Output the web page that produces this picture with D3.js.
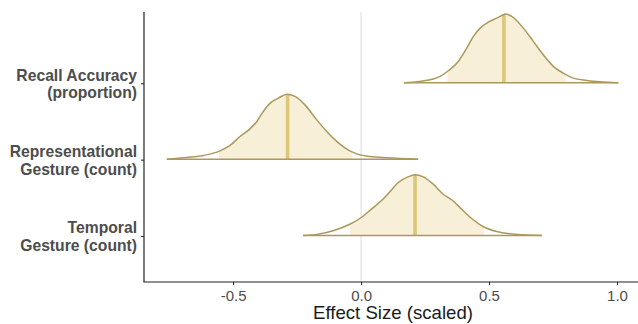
<!DOCTYPE html>
<html>
<head>
<meta charset="utf-8">
<script src="https://cdn.jsdelivr.net/npm/d3@7"></script>
<style>
  body { margin: 0; background: #fff; }
  svg { display: block; font-family: "Liberation Sans", Arial, sans-serif; }
</style>
</head>
<body>
<svg id="chart" width="638" height="324"></svg>
<script>
// parameters, top to bottom
const params = ["Recall Accuracy\n(proportion)", "Representational\nGesture (count)", "Temporal\nGesture (count)"];

// density outlines (x = effect size, d = relative density)
const recallX = [0.168, 0.230, 0.282, 0.309, 0.341, 0.380, 0.413, 0.439, 0.465, 0.497, 0.530, 0.556, 0.5625, 0.589, 0.634, 0.673, 0.712, 0.751, 0.790, 0.829, 0.882, 0.934, 1.005];
const recallD = [0, 0.020, 0.054, 0.093, 0.175, 0.311, 0.505, 0.675, 0.796, 0.884, 0.942, 0.990, 1.000, 0.967, 0.796, 0.603, 0.408, 0.239, 0.141, 0.068, 0.035, 0.015, 0];
const reprX = [-0.759, -0.681, -0.616, -0.551, -0.512, -0.473, -0.434, -0.407, -0.382, -0.355, -0.323, -0.290, -0.258, -0.219, -0.173, -0.134, -0.095, -0.056, -0.017, 0.035, 0.100, 0.223];
const reprD = [0, 0.025, 0.054, 0.121, 0.199, 0.330, 0.441, 0.549, 0.694, 0.815, 0.888, 0.946, 0.913, 0.790, 0.572, 0.403, 0.258, 0.146, 0.077, 0.039, 0.019, 0];
const tempX = [-0.227, -0.168, -0.103, -0.044, 0.001, 0.040, 0.079, 0.118, 0.145, 0.184, 0.210, 0.243, 0.282, 0.321, 0.354, 0.393, 0.432, 0.478, 0.530, 0.582, 0.634, 0.706];
const tempD = [0, 0.019, 0.077, 0.164, 0.262, 0.383, 0.505, 0.659, 0.771, 0.854, 0.884, 0.854, 0.747, 0.601, 0.520, 0.383, 0.247, 0.127, 0.058, 0.025, 0.010, 0];

// medians and inner interval bounds
const medians = [0.558, -0.287, 0.211];
const innerLo = [0.337, -0.555, -0.044];
const innerHi = [0.800, -0.036, 0.480];

const xTicks = [-0.5, 0, 0.5, 1.0];

const densX = [recallX, reprX, tempX];
const densD = [recallD, reprD, tempD];

const mLeft = 144, mRight = 638, mTop = 12, mBottom = 282;

const fillCol = "#f8efd8", lineCol = "#ab985b", medCol = "#dcc678";

const svg = d3.select("#chart");

const x = d3.scaleLinear().domain([-0.848, 1.082]).range([mLeft, mRight]);
const y = d3.scalePoint().domain(params).range([83.3, 236]);
const h = d3.scaleLinear().domain([0, 1]).range([0, 68.7]);

// zero reference line
svg.append("line")
  .attr("x1", x(0)).attr("x2", x(0))
  .attr("y1", mTop).attr("y2", mBottom)
  .attr("stroke", "#dcdcdc").attr("stroke-width", 1);

const defs = svg.append("defs");

params.forEach((p, i) => {
  const pts = densX[i].map((v, j) => [v, densD[i][j]]);
  const base = y(p) - 0.5;
  const area = d3.area()
    .x(d => x(d[0]))
    .y0(base)
    .y1(d => base - h(d[1]))
    .curve(d3.curveMonotoneX);
  const line = d3.line()
    .x(d => x(d[0]))
    .y(d => base - h(d[1]))
    .curve(d3.curveMonotoneX);

  const cid = "clip" + i;
  defs.append("clipPath").attr("id", cid)
    .append("path").attr("d", area(pts));

  const g = svg.append("g");
  // inner interval fill
  g.append("rect")
    .attr("clip-path", "url(#" + cid + ")")
    .attr("x", x(innerLo[i])).attr("width", x(innerHi[i]) - x(innerLo[i]))
    .attr("y", base - h(1.05)).attr("height", h(1.05))
    .attr("fill", fillCol);
  // median
  g.append("line")
    .attr("clip-path", "url(#" + cid + ")")
    .attr("x1", x(medians[i])).attr("x2", x(medians[i]))
    .attr("y1", base).attr("y2", base - h(1.05))
    .attr("stroke", medCol).attr("stroke-width", 3.6);
  // outline
  g.append("path")
    .attr("d", line(pts))
    .attr("fill", "none").attr("stroke", lineCol).attr("stroke-width", 1.5);
  g.append("line")
    .attr("x1", x(densX[i][0])).attr("x2", x(densX[i][densX[i].length - 1]))
    .attr("y1", base).attr("y2", base)
    .attr("stroke", lineCol).attr("stroke-width", 1.5);
});

// y axis
const ya = svg.append("g")
  .attr("transform", "translate(" + mLeft + ",0)")
  .call(d3.axisLeft(y).tickSize(3).tickFormat(""));
ya.select(".domain").remove();
ya.selectAll(".tick line").attr("stroke", "#333").attr("stroke-width", 1.1);
svg.append("line")
  .attr("x1", mLeft).attr("x2", mLeft).attr("y1", mTop).attr("y2", mBottom)
  .attr("stroke", "#222").attr("stroke-width", 1.2);

params.forEach(p => {
  const lines = p.split("\n");
  const t = svg.append("text")
    .attr("text-anchor", "end")
    .attr("font-size", 15.7).attr("font-weight", "bold")
    .attr("fill", "#4d4d4d");
  lines.forEach((s, k) => {
    t.append("tspan").attr("x", 137).attr("y", y(p) - 2.6 + k * 17.5).text(s);
  });
});

// x axis
const xa = svg.append("g")
  .attr("transform", "translate(0," + mBottom + ")")
  .call(d3.axisBottom(x).tickValues(xTicks).tickSize(3).tickSizeOuter(0).tickFormat(d => d.toFixed(1)));
xa.select(".domain").remove();
xa.selectAll(".tick line").attr("stroke", "#333").attr("stroke-width", 1.1);
xa.selectAll(".tick text")
  .attr("font-size", 15).attr("fill", "#4d4d4d")
  .attr("font-family", "Liberation Sans, Arial, sans-serif")
  .attr("dy", null).attr("y", 19);
svg.append("line")
  .attr("x1", mLeft - 0.6).attr("x2", mRight).attr("y1", mBottom).attr("y2", mBottom)
  .attr("stroke", "#222").attr("stroke-width", 1.2);

svg.append("text")
  .attr("x", (mLeft + mRight) / 2 + 2).attr("y", 319)
  .attr("text-anchor", "middle")
  .attr("font-size", 18.6).attr("fill", "#1a1a1a")
  .text("Effect Size (scaled)");
</script>
</body>
</html>
